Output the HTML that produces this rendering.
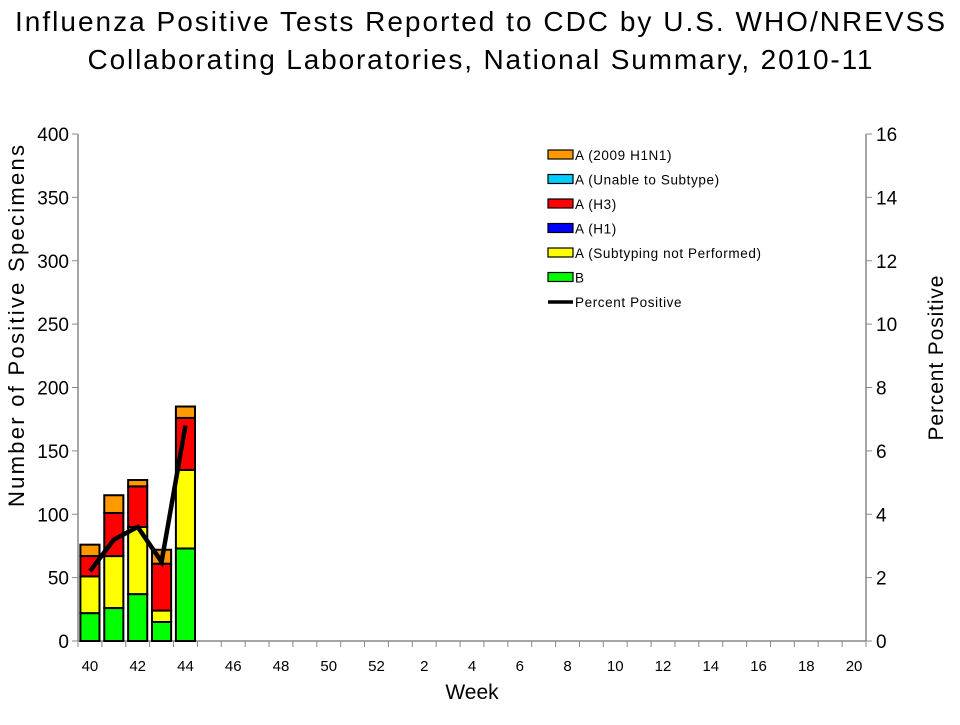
<!DOCTYPE html>
<html><head><meta charset="utf-8"><style>
body{margin:0;background:#fff;font-family:"Liberation Sans",Arial,sans-serif}
</style></head><body>
<svg id="c" width="960" height="720" font-family="Liberation Sans, Arial, sans-serif">
<text x="480" y="31" font-size="28" text-anchor="middle" textLength="930" lengthAdjust="spacing">Influenza Positive Tests Reported to CDC by U.S. WHO/NREVSS</text>
<text x="480" y="69" font-size="28" text-anchor="middle" textLength="785" lengthAdjust="spacing">Collaborating Laboratories, National Summary, 2010-11</text>
<g id="plot"></g>
</svg>
<script>
const weeks=[40,41,42,43,44,45,46,47,48,49,50,51,52,1,2,3,4,5,6,7,8,9,10,11,12,13,14,15,16,17,18,19,20];
const bVals=[22,26,37,15,73];
const subNotVals=[29,41,53,9,62];
const h1Vals=[0,0,0,0,0];
const h3Vals=[16,34,32,37,41];
const unableVals=[0,0,0,0,0];
const h1n1Vals=[9,14,5,11,9];
const pctVals=[2.2,3.2,3.6,2.5,6.8];
const leftTicks=[0,50,100,150,200,250,300,350,400];
const rightTicks=[0,2,4,6,8,10,12,14,16];
const ns="http://www.w3.org/2000/svg";
const g=document.getElementById('plot');
const X0=78,X1=866,Y0=641,Y1=134;
const slot=(X1-X0)/weeks.length;
const xC=i=>X0+(i+0.5)*slot;
const yL=v=>Y0-(v/400)*(Y0-Y1);
const yR=v=>Y0-(v/16)*(Y0-Y1);
function el(t,a,txt){const e=document.createElementNS(ns,t);for(const k in a)e.setAttribute(k,a[k]);if(txt!==undefined)e.textContent=txt;g.appendChild(e);return e;}
let e;
e=el('line',{x1:X0,y1:Y1,x2:X0,y2:Y0,stroke:'#888','stroke-width':1.5});


e=el('line',{x1:X1,y1:Y1,x2:X1,y2:Y0,stroke:'#888','stroke-width':1.5});


e=el('line',{x1:X0,y1:Y0,x2:X1,y2:Y0,stroke:'#888','stroke-width':1.5});


leftTicks.forEach(v=>{const y=yL(v);
el('line',{x1:X0-6,y1:y,x2:X0,y2:y,stroke:'#888'});
e=el('text',{x:X0-9,y:y+7,'font-size':19,'text-anchor':'end'},v);

});
rightTicks.forEach(v=>{const y=yR(v);
el('line',{x1:X1,y1:y,x2:X1+6,y2:y,stroke:'#888'});
e=el('text',{x:X1+10,y:y+7,'font-size':19},v);

});
for(let i=0;i<=weeks.length;i++){const x=X0+i*slot;el('line',{x1:x,y1:Y0,x2:x,y2:Y0+6,stroke:'#888'});}
weeks.forEach((w,i)=>{if(i%2==0){e=el('text',{x:xC(i),y:671,'font-size':15,'text-anchor':'middle'},w);

}});
e=el('text',{x:472,y:699,'font-size':21,'text-anchor':'middle'},'Week');


e=el('text',{x:0,y:0,'font-size':22,'text-anchor':'middle',textLength:362,lengthAdjust:'spacing',transform:`translate(24,326) rotate(-90)`},'Number of Positive Specimens');


e=el('text',{x:0,y:0,'font-size':21,'text-anchor':'middle',textLength:165,lengthAdjust:'spacing',transform:`translate(943,358) rotate(-90)`},'Percent Positive');


const series=[[bVals,'#00ff00','b'],[subNotVals,'#ffff00','a-subtyping-not-performed'],[h1Vals,'#0000ff','a-h1'],[h3Vals,'#ff0000','a-h3'],[unableVals,'#00ccff','a-unable'],[h1n1Vals,'#ff9900','a-2009-h1n1']];
const bw=slot*0.8;
bVals.forEach((_,i)=>{let acc=0;series.forEach(([arr,col,nm])=>{const v=arr[i];if(v>0){
e=el('rect',{x:xC(i)-bw/2,y:yL(acc+v),width:bw,height:yL(acc)-yL(acc+v),fill:col,stroke:'#000','stroke-width':2});

}acc+=v;});});
e=el('polyline',{points:pctVals.map((v,i)=>xC(i)+','+yR(v)).join(' '),fill:'none',stroke:'#000','stroke-width':4.5,'stroke-linejoin':'miter'});


const leg=[['A (2009 H1N1)','#ff9900'],['A (Unable to Subtype)','#00ccff'],['A (H3)','#ff0000'],['A (H1)','#0000ff'],['A (Subtyping not Performed)','#ffff00'],['B','#00ff00']];
leg.forEach(([t,c],i)=>{const y=155+i*24.5;
e=el('rect',{x:548,y:y-5,width:25,height:9,fill:c,stroke:'#000','stroke-width':1.2});


e=el('text',{x:575,y:y+5,'font-size':13.5,'letter-spacing':0.6},t);

});
e=el('line',{x1:548,y1:155+6*24.5,x2:573,y2:155+6*24.5,stroke:'#000','stroke-width':3.5});


e=el('text',{x:575,y:155+6*24.5+5,'font-size':13.5,'letter-spacing':0.6},'Percent Positive');


</script>
</body></html>
